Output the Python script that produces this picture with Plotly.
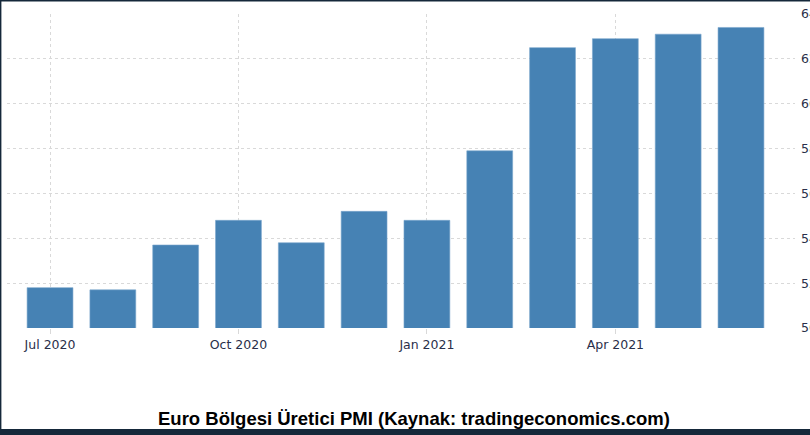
import plotly.graph_objects as go

months = ["Jul 2020", "Aug 2020", "Sep 2020", "Oct 2020", "Nov 2020", "Dec 2020",
          "Jan 2021", "Feb 2021", "Mar 2021", "Apr 2021", "May 2021", "Jun 2021"]
pmi = [51.8, 51.7, 53.7, 54.8, 53.8, 55.2, 54.8, 57.9, 62.5, 62.9, 63.1, 63.4]
tick_positions = [0, 3, 6, 9]
tick_labels = ["Jul 2020", "Oct 2020", "Jan 2021", "Apr 2021"]
y_ticks = [50, 52, 54, 56, 58, 60, 62, 64]
title_text = "Euro Bölgesi Üretici PMI (Kaynak: tradingeconomics.com)"

W, H = 810, 435
L, R, T, B = 7, 15, 14, 107
pw, ph = W - L - R, H - T - B

def px_x(x):
    return (x - L) / pw

def px_y(y):
    return (H - B - y) / ph

dark = "#15283a"
label_color = "#2a2f4a"

fig = go.Figure()
fig.add_trace(go.Bar(
    x=list(range(len(months))), y=pmi,
    marker=dict(color="#4682b4", line=dict(color="#7aa6cc", width=0.6)),
    width=0.73, hovertext=months,
))

fig.update_layout(
    width=W, height=H,
    margin=dict(l=L, r=R, t=T, b=B, pad=0, autoexpand=False),
    paper_bgcolor="white", plot_bgcolor="white",
    showlegend=False,
    xaxis=dict(
        range=[-0.685, 11.86], automargin=False,
        tickmode="array", tickvals=tick_positions, ticktext=tick_labels,
        showgrid=True, gridcolor="#d9d9d9", griddash="dot", gridwidth=1,
        ticks="outside", ticklen=5, tickcolor="#d9d9d9",
        tickfont=dict(family="DejaVu Sans", size=12.5, color=label_color),
        showline=False, zeroline=False,
    ),
    yaxis=dict(
        range=[50, 64], side="right", automargin=False,
        tickmode="array", tickvals=y_ticks,
        showgrid=True, gridcolor="#d9d9d9", griddash="dot", gridwidth=1,
        ticks="", ticklabelstandoff=5,
        tickfont=dict(family="DejaVu Sans", size=12.5, color=label_color),
        showline=False, zeroline=False,
    ),
    annotations=[dict(
        text="<b>" + title_text + "</b>",
        xref="paper", yref="paper", x=px_x(414), y=px_y(418),
        xanchor="center", yanchor="middle", showarrow=False,
        font=dict(family="Liberation Sans", size=18.5, color="black"),
    )],
    shapes=[
        dict(type="rect", xref="paper", yref="paper", layer="above",
             x0=px_x(-2), x1=px_x(W + 2), y0=px_y(-2), y1=px_y(1.5),
             fillcolor=dark, line=dict(width=0)),
        dict(type="rect", xref="paper", yref="paper", layer="above",
             x0=px_x(-2), x1=px_x(1.4), y0=px_y(-2), y1=px_y(H + 2),
             fillcolor=dark, line=dict(width=0)),
        dict(type="rect", xref="paper", yref="paper", layer="above",
             x0=px_x(-2), x1=px_x(W + 2), y0=px_y(429), y1=px_y(H + 2),
             fillcolor=dark, line=dict(width=0)),
    ],
)

fig.write_html(
    "out.html",
    config={"displayModeBar": False},
    post_script="document.body.style.margin='0';document.body.style.overflow='hidden';",
)
